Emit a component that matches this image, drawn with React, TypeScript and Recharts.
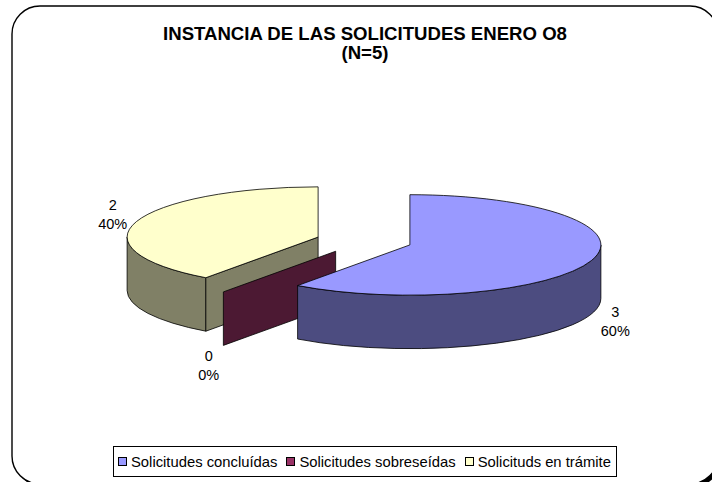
import React from "react";
import { PieChart, Pie } from "recharts";

const categories = ["Solicitudes concluídas", "Solicitudes sobreseídas", "Solicituds en trámite"];
const values = [3, 0, 2];
const topColors = ["#9999FF", "#993366", "#FFFFCC"];
const sideColors = ["#4C4C80", "#4C1933", "#808066"];
const titleLines = ["INSTANCIA DE LAS SOLICITUDES ENERO O8", "(N=5)"];

const W = 712;
const H = 482;
const FONT = '"Liberation Sans", Arial, sans-serif';
const RAD = Math.PI / 180;
// 3D look: squash factor, wall height and explode distance, relative to the radius
const TILT = 0.263;
const DEPTH = 0.28;
const EXPLODE = 0.2526;

const total = values.reduce((a, b) => a + b, 0);

// reversed + counter-clockwise from 12 o'clock gives the same angles as Excel's
// clockwise order, but paints back slices first
const pieData = categories.map((name, i) => ({ name, value: values[i], idx: i })).reverse();

function Slice3D(props: any) {
  const { cx, cy, outerRadius: r, startAngle, endAngle, midAngle } = props;
  const idx = props.payload?.idx ?? props.idx;
  const a1 = Math.min(startAngle, endAngle);
  const a2 = Math.max(startAngle, endAngle);
  const m = midAngle * RAD;
  const ry = r * TILT;
  const d = r * DEPTH;
  const ex = r * EXPLODE;
  const ox = cx + ex * Math.cos(m);
  const oy = cy - ex * TILT * Math.sin(m);
  const px = (a: number) => ox + r * Math.cos(a * RAD);
  const py = (a: number, dy = 0) => oy - ry * Math.sin(a * RAD) + dy;

  const walls: string[] = [];
  // front part of the outer wall
  for (const k of [-1, 0, 1]) {
    const b1 = Math.max(a1, 180 + 360 * k);
    const b2 = Math.min(a2, 360 + 360 * k);
    if (b2 - b1 > 0.01) {
      walls.push(
        `M${px(b1)},${py(b1)} A${r},${ry} 0 0 0 ${px(b2)},${py(b2)} L${px(b2)},${py(b2, d)} A${r},${ry} 0 0 1 ${px(b1)},${py(b1, d)} Z`
      );
    }
  }
  const radial = (a: number) =>
    `M${ox},${oy} L${px(a)},${py(a)} L${px(a)},${py(a, d)} L${ox},${oy + d} Z`;
  const flat = a2 - a1 < 1e-6;
  if (flat) walls.push(radial(a1));
  else {
    if (Math.cos(a1 * RAD) > 1e-6) walls.push(radial(a1));
    if (Math.cos(a2 * RAD) < -1e-6) walls.push(radial(a2));
  }
  const large = a2 - a1 > 180 ? 1 : 0;
  const top = `M${ox},${oy} L${px(a1)},${py(a1)} A${r},${ry} 0 ${large} 0 ${px(a2)},${py(a2)} Z`;

  const s = Math.sin(m);
  const lx = px(midAngle) + 25 * Math.cos(m);
  const ly = py(midAngle, s < 0 ? d : 0) - 25 * s;
  const val = values[idx];
  const pct = Math.round((val / total) * 100);

  return (
    <g>
      {walls.map((p, i) => (
        <path key={i} d={p} fill={sideColors[idx]} stroke="#000" strokeWidth={0.8} strokeLinejoin="round" />
      ))}
      {!flat && <path d={top} fill={topColors[idx]} stroke="#000" strokeWidth={0.8} strokeLinejoin="round" />}
      <text textAnchor="middle" fontSize={14.5} fontFamily={FONT} fill="#000">
        <tspan x={lx} y={ly - 4.3}>{val}</tspan>
        <tspan x={lx} y={ly + 14.7}>{pct}%</tspan>
      </text>
    </g>
  );
}

export default function App() {
  return (
    <div style={{ position: "absolute", left: 0, top: 0, width: W, height: H, overflow: "hidden", background: "#fff" }}>
      <svg width={W} height={H} style={{ position: "absolute", left: 0, top: 0 }}>
        <rect x={15} y={9} width={706} height={478} rx={28} fill="#000" />
        <rect x={12} y={6} width={706} height={478} rx={28} fill="#fff" stroke="#000" strokeWidth={1.4} />
        <text x={365} textAnchor="middle" fontFamily={FONT} fontWeight="bold" fontSize={18.6}>
          <tspan x={365} y={39.5}>{titleLines[0]}</tspan>
          <tspan x={365} y={58.5}>{titleLines[1]}</tspan>
        </text>
      </svg>
      <div style={{ position: "absolute", left: 0, top: 0 }}>
        <PieChart width={W} height={H} margin={{ top: 0, right: 0, bottom: 0, left: 0 }}>
          <Pie
            data={pieData}
            dataKey="value"
            nameKey="name"
            cx={364}
            cy={241}
            outerRadius={191}
            startAngle={90}
            endAngle={450}
            fill="none"
            stroke="none"
            label={Slice3D}
            labelLine={false}
            isAnimationActive={false}
          />
        </PieChart>
      </div>
      <div
        style={{
          position: "absolute",
          left: 113,
          top: 446,
          height: 29,
          border: "1px solid #000",
          display: "flex",
          alignItems: "center",
          padding: "0 5px 0 4px",
          fontFamily: FONT,
          fontSize: 14.8,
          whiteSpace: "nowrap",
          background: "#fff",
        }}
      >
        {categories.map((c, i) => (
          <span key={c} style={{ display: "flex", alignItems: "center", marginRight: i < categories.length - 1 ? 9 : 0 }}>
            <span style={{ width: 7, height: 7, background: topColors[i], border: "1px solid #000", marginRight: 4 }} />
            {c}
          </span>
        ))}
      </div>
    </div>
  );
}
